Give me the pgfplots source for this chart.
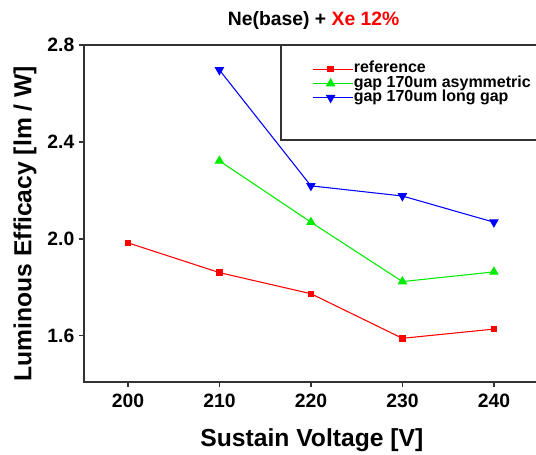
\documentclass[border=0pt]{standalone}
\usepackage{pgfplots}
\pgfplotsset{compat=1.18}
\usepackage{fontspec}
\setmainfont{Liberation Sans}
\usetikzlibrary{calc}
\definecolor{pgreen}{RGB}{0,235,0}
\begin{document}
\begin{tikzpicture}
\begin{axis}[
    scale only axis,
    width=341.8pt, height=252.75pt,
    xmin=195.2, xmax=245, ymin=1.41, ymax=2.8,
    xtick={200,210,220,230,240},
    ytick={1.6,2.0,2.4,2.8},
    tick pos=left,
    tick align=outside,
    major tick length=3.75pt,
    tick style={line width=0.9pt, black!80},
    axis line style={line width=1.1pt, black!80},
    /pgf/number format/assume math mode=true,
    tick label style={font=\bfseries\fontsize{14.5}{17}\selectfont},
    yticklabel style={/pgf/number format/.cd, fixed, fixed zerofill, precision=1},
    xticklabel style={yshift=-2pt, /pgf/number format/.cd, 1000 sep={}},
    xlabel={Sustain Voltage [V]},
    ylabel={Luminous Efficacy [lm / W]},
    label style={font=\bfseries\fontsize{18.5}{22}\selectfont},
    xlabel style={at={(rel axis cs:0.5,-0.172)}, anchor=center},
    ylabel style={at={(rel axis cs:-0.1295,0.47)}, anchor=center},
    title={Ne(base) + \textcolor{red}{Xe 12\%}},
    title style={font=\bfseries\fontsize{14.5}{17}\selectfont, at={(rel axis cs:0.504,1.05)}, anchor=center},
    legend style={draw=none, fill=none, at={(rel axis cs:0.5,0.95)}, anchor=north west,
        inner sep=0pt, row sep=0pt,
        font=\bfseries\fontsize{12}{13}\selectfont,
        nodes={inner sep=0.5pt, text height=7.5pt, text depth=2.2pt}},
    legend cell align=left,
    legend image code/.code={\draw[mark repeat=2, mark phase=2] plot coordinates {(0pt,0pt) (13.5pt,0pt) (27pt,0pt)};
        \path (0pt,0pt) -- (30pt,0pt);},
]
\addplot[red, line width=0.8pt, mark=square*, mark size=2pt] coordinates {
    (200,1.984) (210,1.861) (220,1.774) (230,1.590) (240,1.628)};
\addplot[pgreen, line width=0.8pt, mark=triangle*, mark size=3.4pt] coordinates {
    (210,2.322) (220,2.069) (230,1.824) (240,1.864)};
\addplot[blue, line width=0.8pt, mark=triangle*, mark size=3.4pt, mark options={rotate=180}] coordinates {
    (210,2.697) (220,2.219) (230,2.177) (240,2.069)};
\legend{reference, gap 170um asymmetric, gap 170um long gap}
\draw[line width=1.1pt, black!80] (rel axis cs:0.432,1.01) -- (rel axis cs:0.432,0.718) -- (rel axis cs:1.01,0.718);
\coordinate (bl) at (axis cs:195.2,1.41);
\coordinate (tr) at (axis cs:244.6,2.8);
\end{axis}
\pgfresetboundingbox
\useasboundingbox ($(bl)+(-63pt,-54.75pt)$) rectangle ($(tr)+(0pt,33.75pt)$);
\end{tikzpicture}
\end{document}
